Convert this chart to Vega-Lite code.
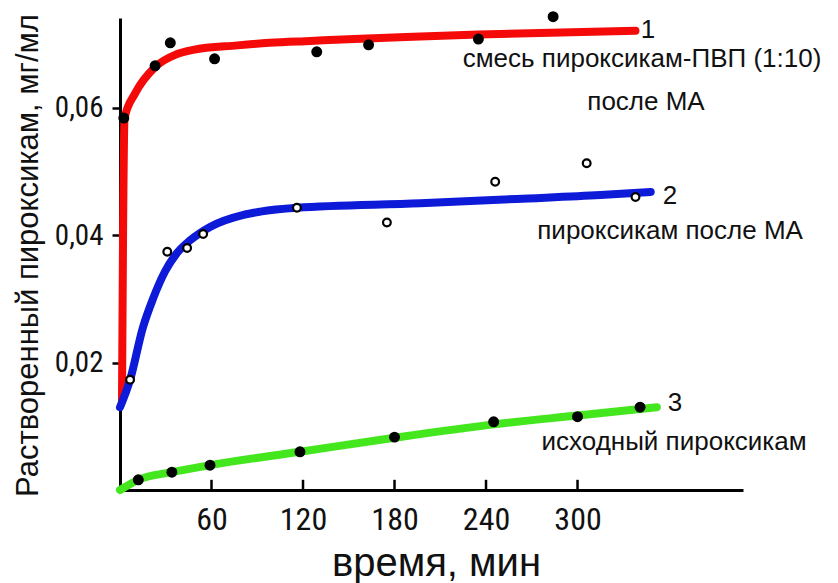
{
  "$schema": "https://vega.github.io/schema/vega-lite/v6.json",
  "width": 623,
  "height": 472,
  "autosize": {"type": "none"},
  "padding": {"left": 120, "top": 18, "right": 95, "bottom": 93},
  "background": "white",
  "config": {
    "view": {"stroke": null},
    "axis": {"grid": false, "domainColor": "#000", "domainWidth": 3, "tickColor": "#000", "tickWidth": 2.5, "labelColor": "#111", "titleColor": "#111", "titleFontWeight": "normal", "labelFont": "Liberation Sans Narrow, Roboto Condensed, DejaVu Sans Condensed, Liberation Sans", "titleFont": "Liberation Sans"}
  },
  "datasets": {
    "curves": [
      {"s": "1", "t": 1.3, "v": 0.0141},
      {"s": "1", "t": 2.0, "v": 0.0400},
      {"s": "1", "t": 3.0, "v": 0.0584},
      {"s": "1", "t": 10, "v": 0.0623},
      {"s": "1", "t": 23, "v": 0.0664},
      {"s": "1", "t": 37, "v": 0.0684},
      {"s": "1", "t": 48, "v": 0.0691},
      {"s": "1", "t": 77, "v": 0.0698},
      {"s": "1", "t": 98, "v": 0.0702},
      {"s": "1", "t": 125, "v": 0.0705},
      {"s": "1", "t": 162, "v": 0.0709},
      {"s": "1", "t": 197, "v": 0.0712},
      {"s": "1", "t": 235, "v": 0.0715},
      {"s": "1", "t": 338, "v": 0.0721},
      {"s": "2", "t": 0, "v": 0.0130},
      {"s": "2", "t": 6.6, "v": 0.0173},
      {"s": "2", "t": 15, "v": 0.0255},
      {"s": "2", "t": 21.6, "v": 0.0300},
      {"s": "2", "t": 29.5, "v": 0.0343},
      {"s": "2", "t": 37, "v": 0.0371},
      {"s": "2", "t": 46, "v": 0.0392},
      {"s": "2", "t": 59, "v": 0.0413},
      {"s": "2", "t": 81, "v": 0.0432},
      {"s": "2", "t": 92, "v": 0.0437},
      {"s": "2", "t": 116, "v": 0.0443},
      {"s": "2", "t": 197, "v": 0.0450},
      {"s": "2", "t": 260, "v": 0.0457},
      {"s": "2", "t": 315, "v": 0.0463},
      {"s": "2", "t": 348, "v": 0.0468},
      {"s": "3", "t": 0, "v": 0.0},
      {"s": "3", "t": 12, "v": 0.0016},
      {"s": "3", "t": 34, "v": 0.0028},
      {"s": "3", "t": 59, "v": 0.0039},
      {"s": "3", "t": 118, "v": 0.0060},
      {"s": "3", "t": 180, "v": 0.0082},
      {"s": "3", "t": 245, "v": 0.0103},
      {"s": "3", "t": 300, "v": 0.0117},
      {"s": "3", "t": 352, "v": 0.0130}
    ],
    "points": [
      {"s": "1", "t": 2.5, "v": 0.0584},
      {"s": "1", "t": 23, "v": 0.0666},
      {"s": "1", "t": 33, "v": 0.0702},
      {"s": "1", "t": 62, "v": 0.0677},
      {"s": "1", "t": 129, "v": 0.0688},
      {"s": "1", "t": 163, "v": 0.0699},
      {"s": "1", "t": 235, "v": 0.0708},
      {"s": "1", "t": 284, "v": 0.0743},
      {"s": "2", "t": 6.6, "v": 0.0173},
      {"s": "2", "t": 31, "v": 0.0374},
      {"s": "2", "t": 44, "v": 0.0380},
      {"s": "2", "t": 54.5, "v": 0.0402},
      {"s": "2", "t": 116, "v": 0.0443},
      {"s": "2", "t": 175, "v": 0.0420},
      {"s": "2", "t": 246, "v": 0.0484},
      {"s": "2", "t": 306, "v": 0.0513},
      {"s": "2", "t": 338, "v": 0.0460},
      {"s": "3", "t": 12, "v": 0.0016},
      {"s": "3", "t": 34, "v": 0.0028},
      {"s": "3", "t": 59, "v": 0.0039},
      {"s": "3", "t": 118, "v": 0.0060},
      {"s": "3", "t": 180, "v": 0.0083},
      {"s": "3", "t": 245, "v": 0.0107},
      {"s": "3", "t": 300, "v": 0.0115},
      {"s": "3", "t": 341, "v": 0.0130}
    ],
    "ticks": [
      {"t": 60}, {"t": 120}, {"t": 180}, {"t": 240}, {"t": 300}
    ],
    "labels": [
      {"label": "1", "t": 346.2, "v": 0.0709},
      {"label": "смесь пироксикам-ПВП (1:10)", "t": 342.3, "v": 0.0664},
      {"label": "после МА", "t": 344.9, "v": 0.05965},
      {"label": "2", "t": 360.7, "v": 0.04485},
      {"label": "пироксикам после МА", "t": 360.7, "v": 0.0394},
      {"label": "3", "t": 363.9, "v": 0.01235},
      {"label": "исходный пироксикам", "t": 363.3, "v": 0.00628}
    ]
  },
  "layer": [
    {
      "data": {"name": "curves"},
      "mark": {"type": "line", "interpolate": "monotone", "strokeWidth": 8, "strokeCap": "round", "strokeJoin": "round", "clip": false},
      "encoding": {
        "x": {"field": "t", "type": "quantitative", "scale": {"domain": [0, 408.5], "nice": false, "zero": false},
          "axis": {"values": [60, 120, 180, 240, 300], "ticks": false, "labelPadding": 14, "labelFontSize": 32, "labelBaseline": "top",
            "title": "время, мин", "titleFontSize": 40, "titleX": 316, "titleY": 85, "titleBaseline": "alphabetic", "titleAnchor": "start", "titleAlign": "center"}},
        "y": {"field": "v", "type": "quantitative", "scale": {"domain": [0, 0.0741], "nice": false},
          "axis": {"values": [0.02, 0.04, 0.06], "tickSize": 8, "labelPadding": 9, "labelFontSize": 29,
            "labelExpr": "replace(format(datum.value, '.2f'), '.', ',')",
            "title": "Растворенный пироксикам, мг/мл", "titleFontSize": 31, "titleAngle": -90, "titleX": -83, "titleY": 237, "titleBaseline": "alphabetic", "titleAlign": "center"}},
        "color": {"field": "s", "type": "nominal", "scale": {"domain": ["1", "2", "3"], "range": ["#f50a0a", "#0d1ad8", "#44e61e"]}, "legend": null},
        "detail": {"field": "s"}
      }
    },
    {
      "data": {"name": "ticks"},
      "mark": {"type": "rule", "color": "#000", "strokeWidth": 2.5},
      "encoding": {
        "x": {"field": "t", "type": "quantitative"},
        "y": {"datum": 0},
        "y2": {"datum": 0.0016}
      }
    },
    {
      "data": {"name": "points"},
      "transform": [{"filter": "datum.s != '2'"}],
      "mark": {"type": "circle", "color": "#000", "size": 120, "opacity": 1},
      "encoding": {
        "x": {"field": "t", "type": "quantitative"},
        "y": {"field": "v", "type": "quantitative"}
      }
    },
    {
      "data": {"name": "points"},
      "transform": [{"filter": "datum.s == '2'"}],
      "mark": {"type": "point", "shape": "circle", "fill": "#fff", "stroke": "#000", "strokeWidth": 2.2, "size": 60, "filled": false, "opacity": 1, "fillOpacity": 1},
      "encoding": {
        "x": {"field": "t", "type": "quantitative"},
        "y": {"field": "v", "type": "quantitative"}
      }
    },
    {
      "data": {"name": "labels"},
      "mark": {"type": "text", "font": "Liberation Sans", "fontSize": 26, "color": "#111", "align": "center", "baseline": "alphabetic", "clip": false},
      "encoding": {
        "x": {"field": "t", "type": "quantitative"},
        "y": {"field": "v", "type": "quantitative"},
        "text": {"field": "label"}
      }
    }
  ]
}
